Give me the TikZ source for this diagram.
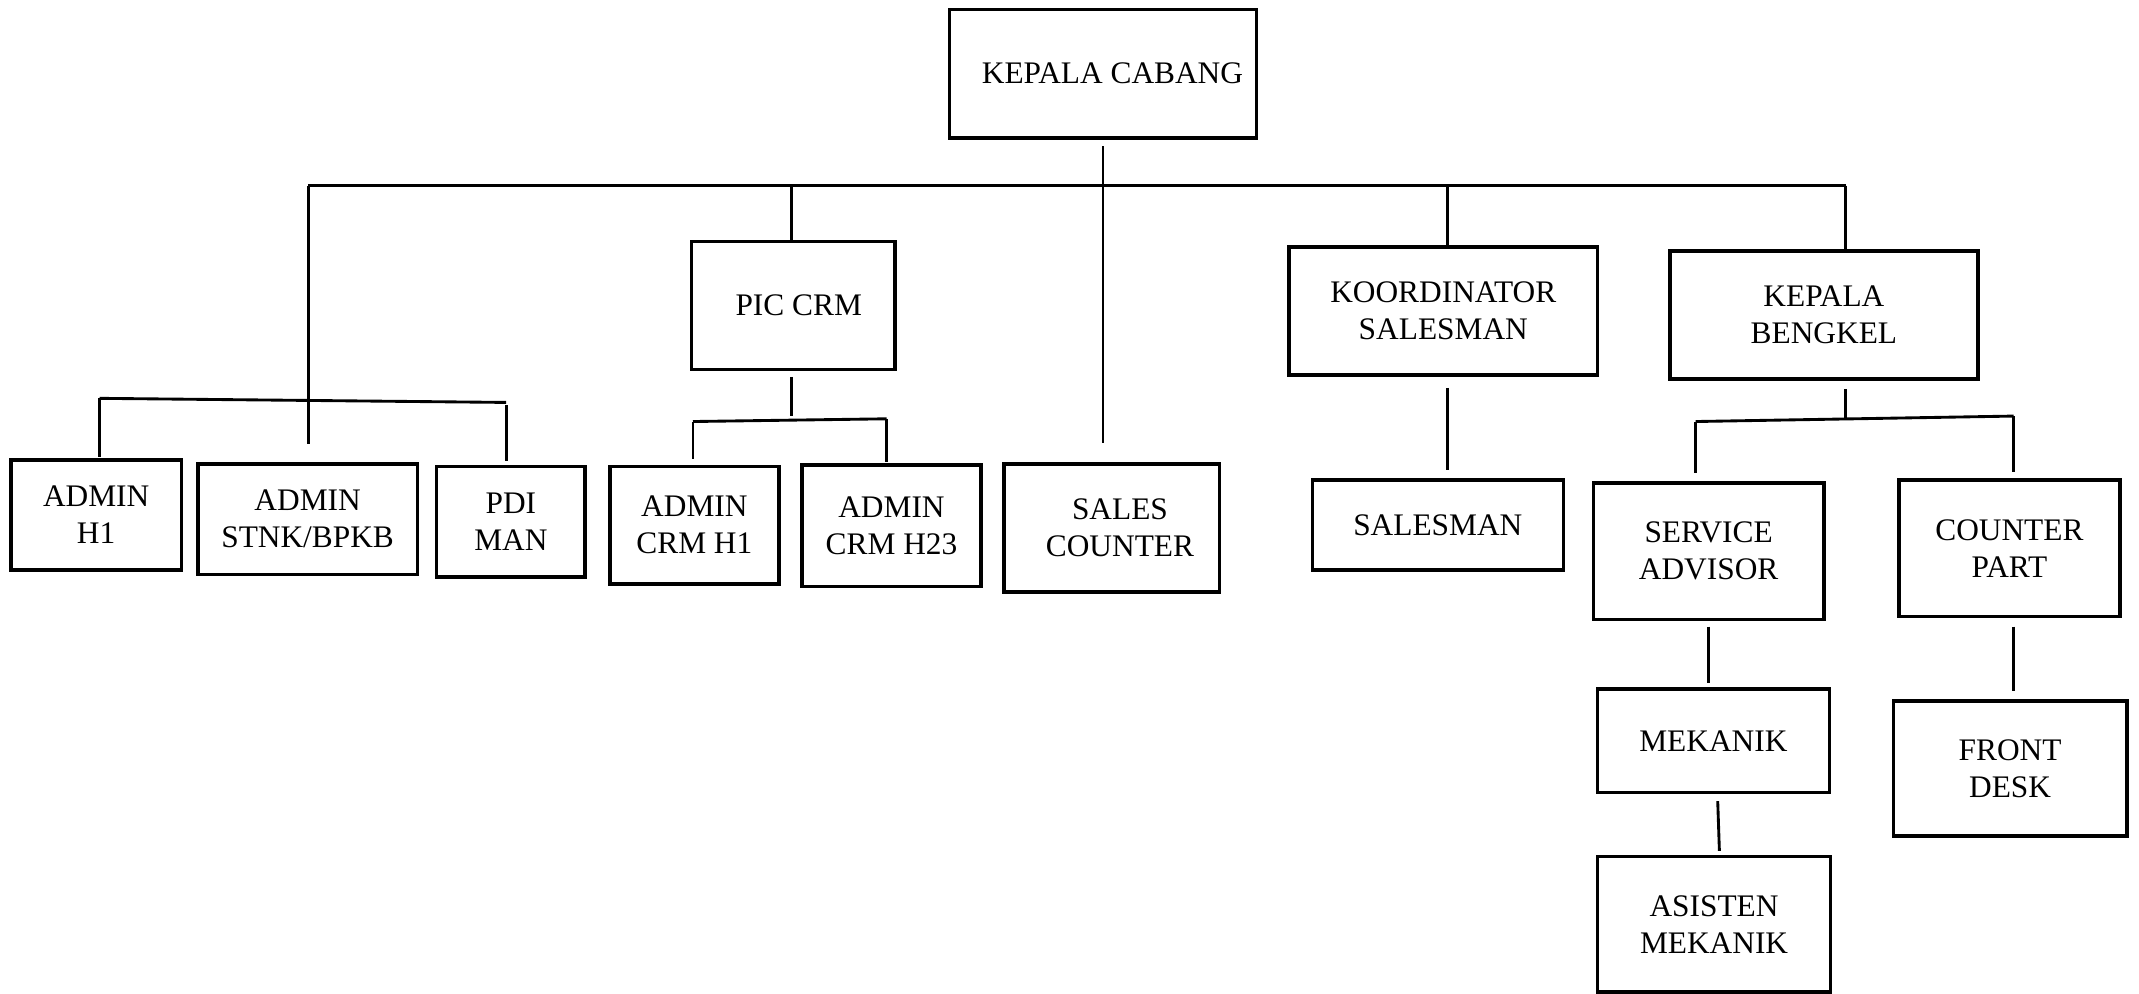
\documentclass[tikz,border=0pt]{standalone}
\usepackage{fontspec}
\setmainfont{Liberation Serif}
\begin{document}
\begin{tikzpicture}[x=0.5pt,y=-0.5pt,
  box/.style={draw, line width=1.3pt, inner sep=0pt, align=center,
    font=\fontsize{11.5}{13.5}\selectfont},
  link/.style={line width=1.05pt}]
\useasboundingbox (0,0) rectangle (1568,728);
\newcommand\orgbox[6]{\node[box, minimum width={(#4-#2)*0.5pt}, minimum height={(#5-#3)*0.5pt}] (#1) at ({(#2+#4)/2},{(#3+#5)/2}) {#6};}
% boxes
\orgbox{kc}{696}{7}{921}{101}{\hspace*{7pt}KEPALA CABANG}
\orgbox{pic}{507}{177}{656}{271}{\hspace*{4pt}PIC CRM}
\orgbox{koor}{945}{181}{1171}{275}{KOORDINATOR\\SALESMAN}
\orgbox{kb}{1224}{184}{1450}{278}{KEPALA\\BENGKEL}
\orgbox{ah1}{8}{337}{133}{418}{ADMIN\\H1}
\orgbox{stnk}{145}{340}{306}{421}{ADMIN\\STNK/BPKB}
\orgbox{pdi}{320}{342}{429}{423}{PDI\\MAN}
\orgbox{crm1}{447}{342}{571}{428}{ADMIN\\CRM H1}
\orgbox{crm23}{588}{341}{719}{430}{ADMIN\\CRM H23}
\orgbox{sc}{736}{340}{894}{434}{\hspace*{6pt}SALES\\\hspace*{6pt}COUNTER}
\orgbox{sm}{962}{352}{1146}{418}{SALESMAN}
\orgbox{sa}{1168}{354}{1337}{454}{SERVICE\\ADVISOR}
\orgbox{cp}{1392}{352}{1554}{452}{COUNTER\\PART}
\orgbox{mek}{1171}{505}{1341}{581}{MEKANIK}
\orgbox{asis}{1171}{628}{1342}{727}{ASISTEN\\MEKANIK}
\orgbox{fd}{1388}{514}{1559}{613}{FRONT\\DESK}
% bus coordinates
\coordinate (busL) at (226,136);
\coordinate (busR) at (1353,136);
\coordinate (b2) at (580,136);
\coordinate (b4) at (1061,136);
\coordinate (lb1) at (73,292);
\coordinate (lb2) at (371,295);
\coordinate (pb1) at (508,309);
\coordinate (pb2) at (650,307);
\coordinate (pbm) at (580,308);
\coordinate (kbm) at (1353,307);
\coordinate (kb1) at (1243,309);
\coordinate (kb2) at (1476,305);
% connectors
\draw[link] (busL) -- (busR);
\draw[link, shorten <=2.5pt, shorten >=7pt] (kc.south) -- (kc.south |- sc.north);
\draw[link, shorten >=6.5pt] (busL) -- (busL |- stnk.north);
\draw[link] (b2) -- (b2 |- pic.north);
\draw[link] (b4) -- (b4 |- koor.north);
\draw[link] (busR) -- (busR |- kb.north);
% left group
\draw[link] (lb1) -- (lb2);
\draw[link, shorten >=0.5pt] (lb1) -- (lb1 |- ah1.north);
\draw[link, shorten <=1pt, shorten >=1.5pt] (lb2) -- (lb2 |- pdi.north);
% PIC CRM group
\draw[link, shorten <=2pt, shorten >=1.5pt] (pbm |- pic.south) -- (pbm);
\draw[link] (pb1) -- (pb2);
\draw[link, shorten >=2pt] (pb1) -- (pb1 |- crm1.north);
\draw[link, shorten >=0.5pt] (pb2) -- (pb2 |- crm23.north);
% salesman
\draw[link, shorten <=4pt, shorten >=3pt] (b4 |- koor.south) -- (b4 |- sm.north);
% kepala bengkel group
\draw[link, shorten <=3pt] (kbm |- kb.south) -- (kbm);
\draw[link] (kb1) -- (kb2);
\draw[link, shorten >=3pt] (kb1) -- (kb1 |- sa.north);
\draw[link, shorten >=2.5pt] (kb2) -- (kb2 |- cp.north);
\draw[link, shorten <=2pt, shorten >=1.5pt] (sa.south) -- (sa.south |- mek.north);
\draw[link, shorten <=2.5pt, shorten >=1.5pt] ([xshift=1.5pt]mek.south) -- ([xshift=2pt]asis.north);
\draw[link, shorten <=3pt, shorten >=3pt] (kb2 |- cp.south) -- (kb2 |- fd.north);
\end{tikzpicture}
\end{document}
